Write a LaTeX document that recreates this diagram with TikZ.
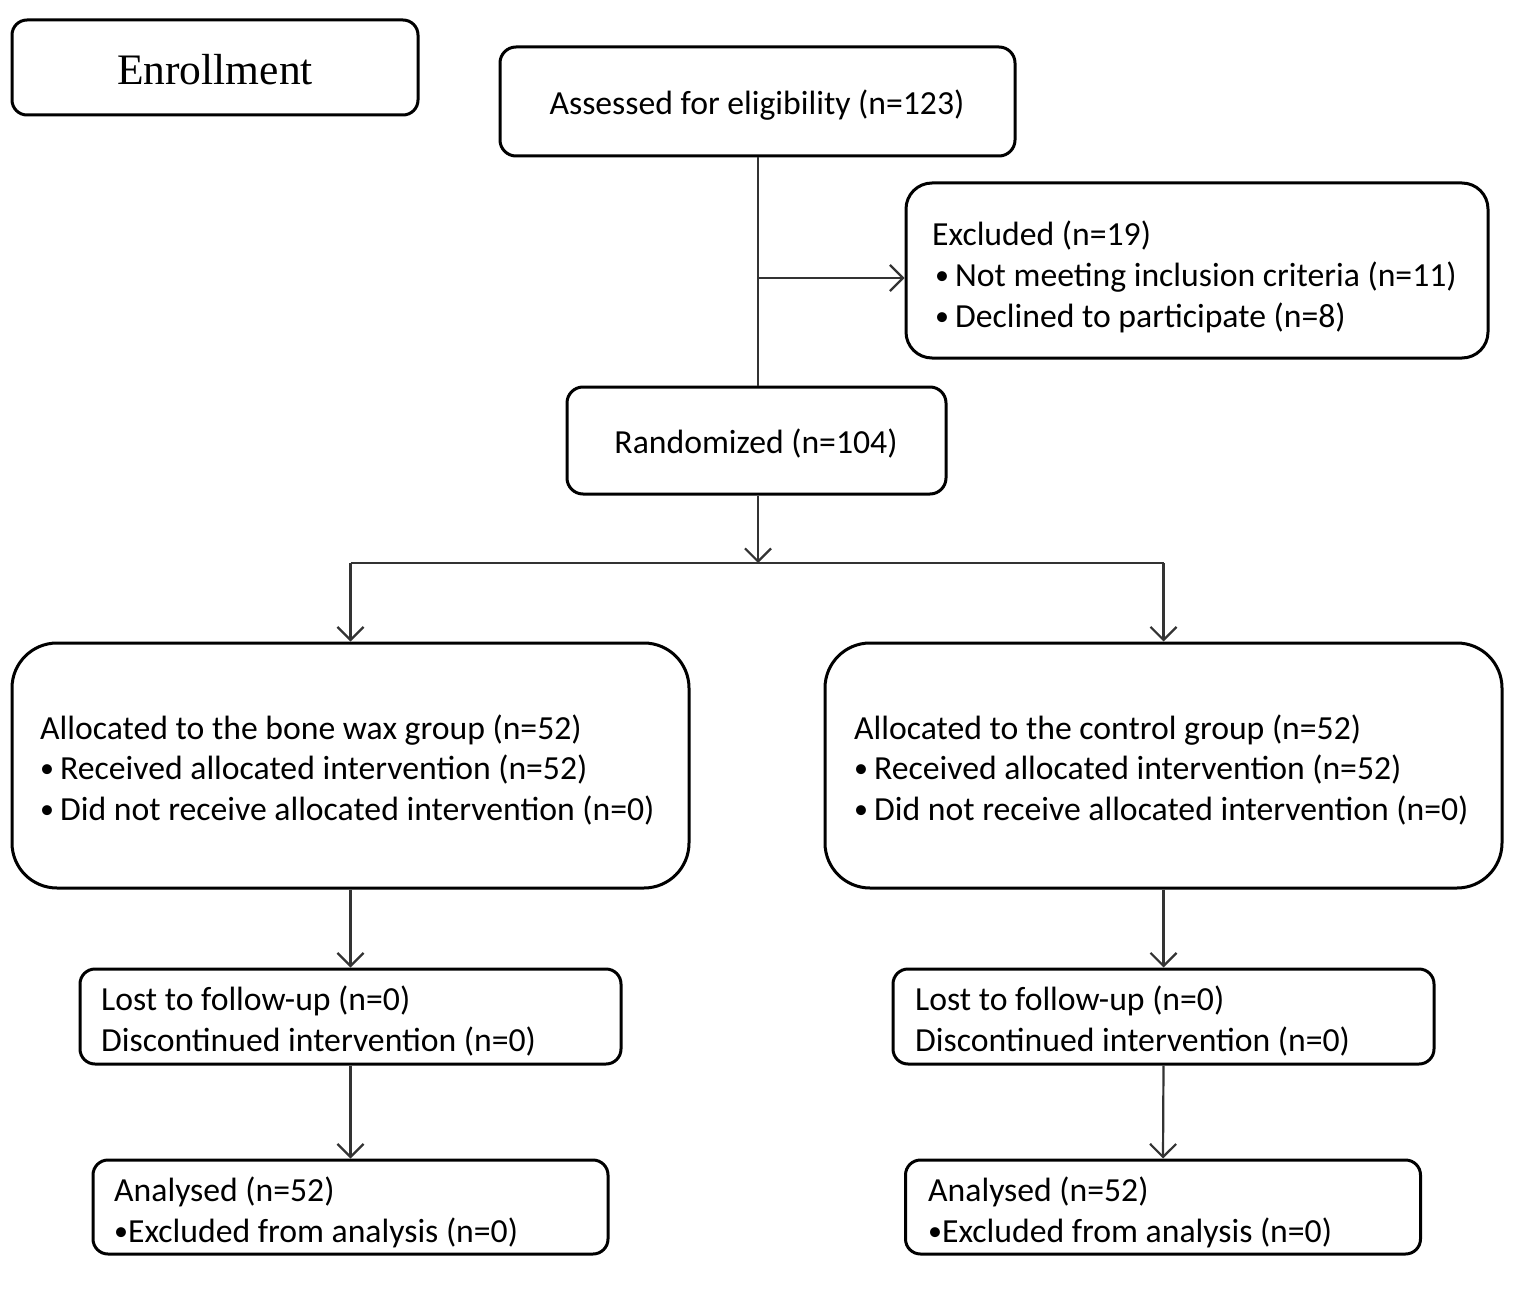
\documentclass[tikz,border=0pt]{standalone}
\usepackage{fontspec}
\setmainfont{Carlito}
\newfontfamily\serifenr{Liberation Serif}
\usetikzlibrary{arrows.meta}
\newcommand{\smbul}{\raisebox{2pt}{\fontsize{28}{28}\selectfont\textbullet}}
\newcommand{\bul}{\smbul\hspace{6pt}}
\begin{document}
\begin{tikzpicture}[x=1pt,y=-1pt,
  box/.style={draw, line width=3pt, inner sep=0pt},
  txt/.style={anchor=base west, align=left, inner sep=0pt, font=\fontsize{33.7}{40.5}\selectfont},
  conn/.style={line width=2.2pt, draw=black!80},
  arr/.style={conn, -{Straight Barb[length=13pt,width=26pt,line width=2.2pt]}}]
\useasboundingbox (0,0) rectangle (1535,1295);
% boxes
\node[box, rounded corners=15pt, minimum width=406pt, minimum height=95pt] (enr) at (215,67.5) {};
\node[font=\serifenr\fontsize{43.5}{48}\selectfont, inner sep=0pt] (enrt) at (215,70) {Enrollment};
\node[box, rounded corners=16pt, minimum width=515pt, minimum height=109pt] (assess) at (757.5,101.5) {};
\node[txt, anchor=center] (assesst) at (757,105) {Assessed for eligibility (n=123)};
\node[box, rounded corners=26pt, minimum width=582pt, minimum height=175pt] (excl) at (1197,270.5) {};
\node[txt] (exclt) at (932,327) {Excluded (n=19)\\[0.5pt]
\hspace*{3pt}\bul Not meeting inclusion criteria (n=11)\\[0.5pt]
\hspace*{3pt}\bul Declined to participate (n=8)};
\node[box, rounded corners=16pt, minimum width=379pt, minimum height=107pt] (rand) at (756.5,440.5) {};
\node[txt, anchor=center] (randt) at (756,444) {Randomized (n=104)};
\node[box, rounded corners=45pt, minimum width=677pt, minimum height=245pt] (bone) at (350.5,765.5) {};
\node[txt] (bonet) at (40,820) {Allocated to the bone wax group (n=52)\\
\bul Received allocated intervention (n=52)\\
\bul Did not receive allocated intervention (n=0)};
\node[box, rounded corners=45pt, minimum width=677pt, minimum height=245pt] (ctrl) at (1163.5,765.5) {};
\node[txt] (ctrlt) at (854,820) {Allocated to the control group (n=52)\\
\bul Received allocated intervention (n=52)\\
\bul Did not receive allocated intervention (n=0)};
\node[box, rounded corners=15pt, minimum width=541pt, minimum height=95pt] (lostL) at (350.5,1016.5) {};
\node[txt] (lostLt) at (101,1051) {Lost to follow-up (n=0)\\Discontinued intervention (n=0)};
\node[box, rounded corners=15pt, minimum width=541pt, minimum height=95pt] (lostR) at (1163.5,1016.5) {};
\node[txt] (lostRt) at (915,1051) {Lost to follow-up (n=0)\\Discontinued intervention (n=0)};
\node[box, rounded corners=15pt, minimum width=515pt, minimum height=94pt] (anaL) at (350.5,1207) {};
\node[txt] (anaLt) at (114,1242) {Analysed (n=52)\\\smbul Excluded from analysis (n=0)};
\node[box, rounded corners=15pt, minimum width=515pt, minimum height=94pt] (anaR) at (1163,1207) {};
\node[txt] (anaRt) at (928,1242) {Analysed (n=52)\\\smbul Excluded from analysis (n=0)};
% connectors
\coordinate (j1) at (758,278);
\coordinate (j2) at (758,563);
\coordinate (sl) at (350.5,563);
\coordinate (sr) at (1163.5,563);
\draw[conn] (assess.south -| j1) -- (rand.north -| j1);
\draw[arr] (j1) -- (j1 -| excl.west);
\draw[arr] (rand.south -| j2) -- (j2);
\draw[conn] (sl) -- (sr);
\draw[arr] (sl) -- (bone.north);
\draw[arr] (sr) -- (ctrl.north);
\draw[arr] (bone.south) -- (lostL.north);
\draw[arr] (ctrl.south) -- (lostR.north);
\draw[arr] (lostL.south) -- (anaL.north);
\draw[arr] (lostR.south) -- (anaR.north);
\end{tikzpicture}
\end{document}
